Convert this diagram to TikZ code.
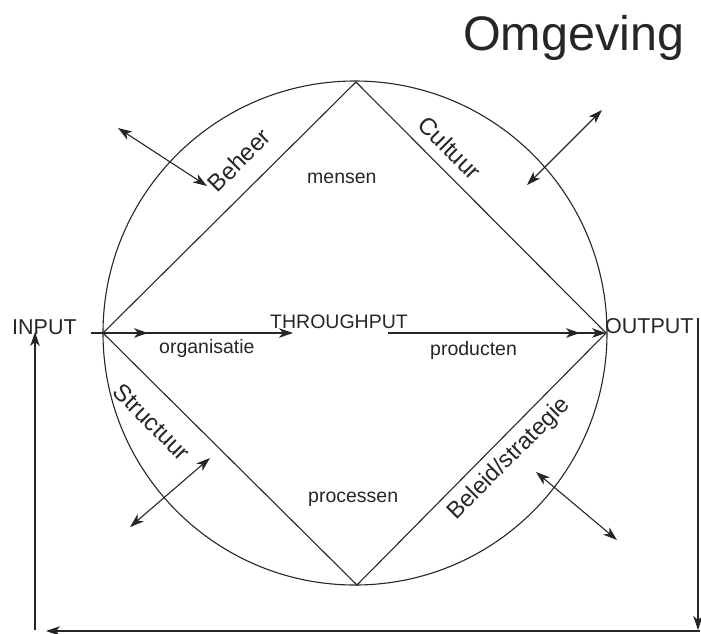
\documentclass[tikz,border=0pt]{standalone}
\usepackage{fontspec}
\setmainfont{Liberation Sans}
\usetikzlibrary{arrows.meta}
\tikzset{
  ln/.style={line width=1.1pt, draw=black!85},
  arr/.style={ln, -{Stealth[length=14pt,width=9.5pt,inset=4pt]}},
  darr/.style={ln, {Stealth[length=14pt,width=9.5pt,inset=4pt]}-{Stealth[length=14pt,width=9.5pt,inset=4pt]}},
  lbl/.style={inner sep=0pt, text=black!85, font=\fontsize{19.5}{20}\selectfont},
  big/.style={inner sep=0pt, text=black!85, font=\fontsize{21.5}{22}\selectfont},
  side/.style={inner sep=0pt, text=black!85, font=\fontsize{24}{25}\selectfont},
}
\begin{document}
\begin{tikzpicture}[x=1pt,y=-1pt]
\useasboundingbox (0,0) rectangle (701,633);
% circle and diamond
\coordinate (C) at (355,333);
\coordinate (T) at (356,82);
\coordinate (L) at (103,333);
\coordinate (B) at (357,585);
\coordinate (R) at (606,333);
\draw[ln] (C) circle[radius=252];
\draw[ln] (L) -- (T) -- (R) -- (B) -- cycle;

% texts
\node[inner sep=0pt, text=black!85, font=\fontsize{48.5}{50}\selectfont, anchor=base west] (omg) at (463,50) {Omgeving};
\node[big, anchor=base west] (in) at (12,334) {INPUT};
\node[big, anchor=base west] (out) at (605,333) {OUTPUT};
\node[lbl, anchor=base west] (thr) at (270,328) {THROUGHPUT};
\node[lbl, anchor=base west] (org) at (159,353) {organisatie};
\node[lbl, anchor=base west] (prod) at (430,355) {producten};
\node[lbl, anchor=base west] (mens) at (307,183) {mensen};
\node[lbl, anchor=base west] (proc) at (308,502) {processen};

\node[side, rotate=45] (beh) at (239,160) {Beheer};
\node[side, rotate=-45] (cul) at (450,148) {Cultuur};
\node[side, rotate=-45] (str) at (152,422) {Structuur};
\node[side, rotate=45, font=\fontsize{23.5}{24}\selectfont] (bel) at (509,459) {Beleid/strategie};

% throughput arrows
\coordinate (a0) at (91,333);
\coordinate (a1) at (148,333);
\coordinate (a2) at (293,333);
\coordinate (b0) at (388,333);
\coordinate (b1) at (580,333);
\draw[arr] (a0) -- (a2);
\draw[arr] (a0) -- (a1);
\draw[arr] (b0) -- (R);
\draw[arr] (b0) -- (b1);

% exchange arrows with environment
\coordinate (p1) at (118,128); \coordinate (q1) at (207,186);
\coordinate (p2) at (602,110); \coordinate (q2) at (527,185);
\coordinate (p3) at (210,458); \coordinate (q3) at (130,527);
\coordinate (p4) at (536,472); \coordinate (q4) at (617,540);
\draw[darr] (p1) -- (q1);
\draw[darr] (p2) -- (q2);
\draw[darr] (p3) -- (q3);
\draw[darr] (p4) -- (q4);

% feedback loop
\coordinate (r0) at (698,318);
\coordinate (r1) at (698,630);
\coordinate (s0) at (700,631);
\coordinate (s1) at (46,631);
\coordinate (t0) at (35,630);
\coordinate (t1) at (35,332);
\draw[arr] (r0) -- (r1);
\draw[arr] (s0) -- (s1);
\draw[arr] (t0) -- (t1);
\end{tikzpicture}
\end{document}
